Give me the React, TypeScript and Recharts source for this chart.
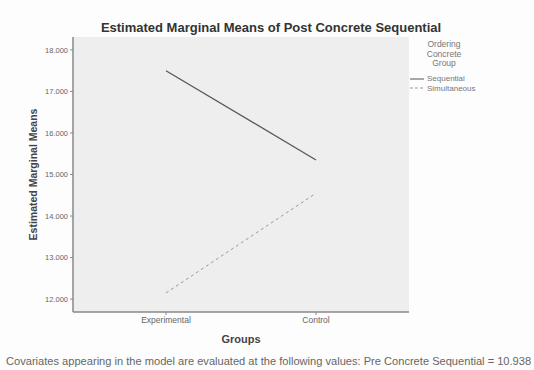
import React from 'react';
import { LineChart, Line, XAxis, YAxis, CartesianGrid } from 'recharts';

const groups = ['Experimental', 'Control'];
const sequential = [17.5, 15.35];
const simultaneous = [12.15, 14.55];
const yTicks = [12, 13, 14, 15, 16, 17, 18];
const legendTitle = ['Ordering', 'Concrete', 'Group'];
const seriesNames = ['Sequential', 'Simultaneous'];

const data = groups.map((g, i) => ({
  group: g,
  sequential: sequential[i],
  simultaneous: simultaneous[i],
}));

const font = '"Liberation Sans", Arial, sans-serif';

const App: React.FC = () => {
  return (
    <div style={{ position: 'absolute', left: 0, top: 0, width: 534, height: 370, background: '#fdfdfd', fontFamily: font, overflow: 'hidden' }}>
      <div style={{ position: 'absolute', top: 20, left: 0, width: 542, textAlign: 'center', fontSize: 13, fontWeight: 'bold', color: '#333' }}>
        Estimated Marginal Means of Post Concrete Sequential
      </div>
      <LineChart width={534} height={370} data={data} margin={{ top: 37, right: 125, left: 33, bottom: 28 }}>
        <CartesianGrid fill="#eeeeee" horizontal={false} vertical={false} />
        <XAxis
          dataKey="group"
          padding={{ left: 93, right: 93 }}
          height={30}
          tick={{ fontSize: 8.5, fill: '#666', fontFamily: font }}
          tickSize={3}
          stroke="#888"
          axisLine={{ stroke: '#888', strokeWidth: 1.5 }}
          label={{ value: 'Groups', position: 'insideBottom', offset: -1, style: { fontSize: 11, fontWeight: 'bold', fill: '#444', fontFamily: font } }}
        />
        <XAxis xAxisId="top" orientation="top" dataKey="group" height={0} tick={false} tickLine={false} axisLine={{ stroke: '#999' }} />
        <YAxis
          width={40}
          domain={[11.69, 18.31]}
          ticks={yTicks}
          allowDataOverflow
          tickFormatter={(v: number) => v.toFixed(3)}
          tick={{ fontSize: 7.5, fill: '#666', fontFamily: font }}
          tickSize={3}
          stroke="#888"
          axisLine={{ stroke: '#888', strokeWidth: 1.5 }}
          label={{ value: 'Estimated Marginal Means', angle: -90, position: 'left', offset: 0, style: { fontSize: 10.5, fontWeight: 'bold', fill: '#444', fontFamily: font, textAnchor: 'middle' } }}
        />
        <YAxis yAxisId="right" orientation="right" width={0} tick={false} tickLine={false} axisLine={{ stroke: '#999' }} />
        <Line dataKey="sequential" stroke="#555" strokeWidth={1.2} dot={false} isAnimationActive={false} />
        <Line dataKey="simultaneous" stroke="#999" strokeWidth={1} strokeDasharray="3 3" dot={false} isAnimationActive={false} />
      </LineChart>
      <div style={{ position: 'absolute', left: 414, top: 40, width: 60, textAlign: 'center', fontSize: 8.5, lineHeight: '9.5px', color: '#777' }}>
        {legendTitle.map((t) => (
          <div key={t}>{t}</div>
        ))}
      </div>
      <div style={{ position: 'absolute', left: 410, top: 74, fontSize: 8, lineHeight: '9.5px', color: '#777' }}>
        {seriesNames.map((n, i) => (
          <div key={n} style={{ display: 'flex', alignItems: 'center' }}>
            <svg width={14} height={6}>
              <line x1={0} y1={3} x2={14} y2={3} stroke={i === 0 ? '#555' : '#999'} strokeDasharray={i === 0 ? undefined : '3 2'} />
            </svg>
            <span style={{ marginLeft: 3 }}>{n}</span>
          </div>
        ))}
      </div>
      <div style={{ position: 'absolute', left: 6, top: 355, fontSize: 11.1, color: '#666', whiteSpace: 'nowrap' }}>
        Covariates appearing in the model are evaluated at the following values: Pre Concrete Sequential = 10.938
      </div>
    </div>
  );
};

export default App;
